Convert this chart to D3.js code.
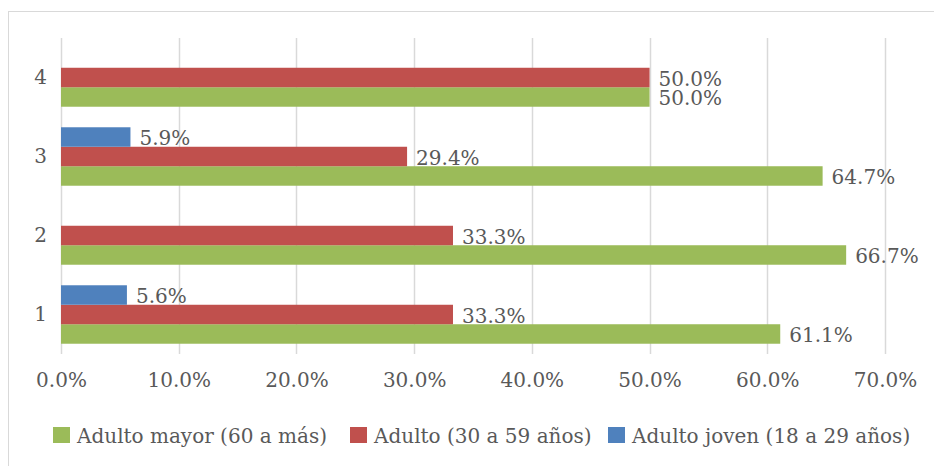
<!DOCTYPE html>
<html>
<head>
<meta charset="utf-8">
<script src="https://cdn.jsdelivr.net/npm/d3@7"></script>
<style>
  body { margin: 0; background: #fff; }
  text { font-family: "DejaVu Serif", serif; fill: #595959; }
</style>
</head>
<body>
<div id="wrapper"></div>
<script>
'use strict';

// categories, bottom to top as in the source
const categories = ['1', '2', '3', '4'];
const seriesNames = ['Adulto mayor (60 a más)', 'Adulto (30 a 59 años)', 'Adulto joven (18 a 29 años)'];
const seriesColors = ['#9bbb59', '#c0504d', '#4f81bd'];
const adultoMayor = [61.1, 66.7, 64.7, 50.0];
const adulto = [33.3, 33.3, 29.4, 50.0];
const adultoJoven = [5.6, 0, 5.9, 0];
const xTicks = [0, 10, 20, 30, 40, 50, 60, 70];

const seriesValues = [adultoMayor, adulto, adultoJoven];

const width = 934;
const height = 466;
const margin = { top: 38, right: 49, bottom: 112, left: 61 };
const plotWidth = width - margin.left - margin.right;
const plotHeight = height - margin.top - margin.bottom;
const fontSize = '20px';

const svg = d3.select('#wrapper').append('svg')
  .attr('width', width)
  .attr('height', height);

// chart frame (right and bottom edges fall outside the picture)
svg.append('rect')
  .attr('x', 8.5).attr('y', 11.5)
  .attr('width', 940).attr('height', 470)
  .attr('fill', 'none')
  .attr('stroke', '#d9d9d9');

const plot = svg.append('g')
  .attr('transform', `translate(${margin.left},${margin.top})`);

const xScale = d3.scaleLinear()
  .domain([0, 70])
  .range([0, plotWidth]);

const yScale = d3.scaleBand()
  .domain(categories.slice().reverse())
  .range([0, plotHeight])
  .paddingInner(0.26)
  .paddingOuter(0.13);

// series order inside a group: blue on top, then red, then green
const innerScale = d3.scaleBand()
  .domain([2, 1, 0])
  .range([0, yScale.bandwidth()]);

// gridlines
plot.append('g')
  .selectAll('line')
  .data(xTicks)
  .join('line')
  .attr('x1', d => Math.round(xScale(d)) + 0.5)
  .attr('x2', d => Math.round(xScale(d)) + 0.5)
  .attr('y1', 0)
  .attr('y2', plotHeight)
  .attr('stroke', '#d9d9d9')
  .attr('stroke-width', 1.5);

// x axis labels
const xAxis = plot.append('g')
  .attr('transform', `translate(0,${plotHeight})`)
  .call(d3.axisBottom(xScale).tickValues(xTicks).tickSize(0).tickPadding(19)
    .tickFormat(d => d.toFixed(1) + '%'));
xAxis.select('.domain').remove();
xAxis.selectAll('text').style('font-size', fontSize).attr('fill', '#595959');

// y axis labels
const yAxis = plot.append('g')
  .call(d3.axisLeft(yScale).tickSize(0).tickPadding(14));
yAxis.select('.domain').remove();
yAxis.selectAll('text').style('font-size', fontSize).attr('fill', '#595959');

// bars
const rows = [];
categories.forEach((cat, i) => {
  seriesValues.forEach((vals, s) => {
    if (vals[i] > 0) rows.push({ cat, s, value: vals[i] });
  });
});

const groups = plot.append('g')
  .selectAll('g')
  .data(rows)
  .join('g');

groups.append('rect')
  .attr('x', 0)
  .attr('y', d => yScale(d.cat) + innerScale(d.s))
  .attr('width', d => xScale(d.value))
  .attr('height', innerScale.bandwidth())
  .attr('fill', d => seriesColors[d.s]);

groups.append('text')
  .attr('x', d => xScale(d.value) + 9)
  .attr('y', d => yScale(d.cat) + innerScale(d.s) + innerScale.bandwidth() / 2 + 1)
  .attr('dy', '0.35em')
  .style('font-size', fontSize)
  .text(d => d.value.toFixed(1) + '%');

// legend
const legendX = [53, 350, 608];
const legend = svg.append('g')
  .selectAll('g')
  .data(seriesNames)
  .join('g')
  .attr('transform', (d, i) => `translate(${legendX[i]},427)`);

legend.append('rect')
  .attr('width', 17).attr('height', 16)
  .attr('fill', (d, i) => seriesColors[i]);

legend.append('text')
  .attr('x', 24)
  .attr('y', 9)
  .attr('dy', '0.35em')
  .style('font-size', fontSize)
  .text(d => d);
</script>
</body>
</html>
